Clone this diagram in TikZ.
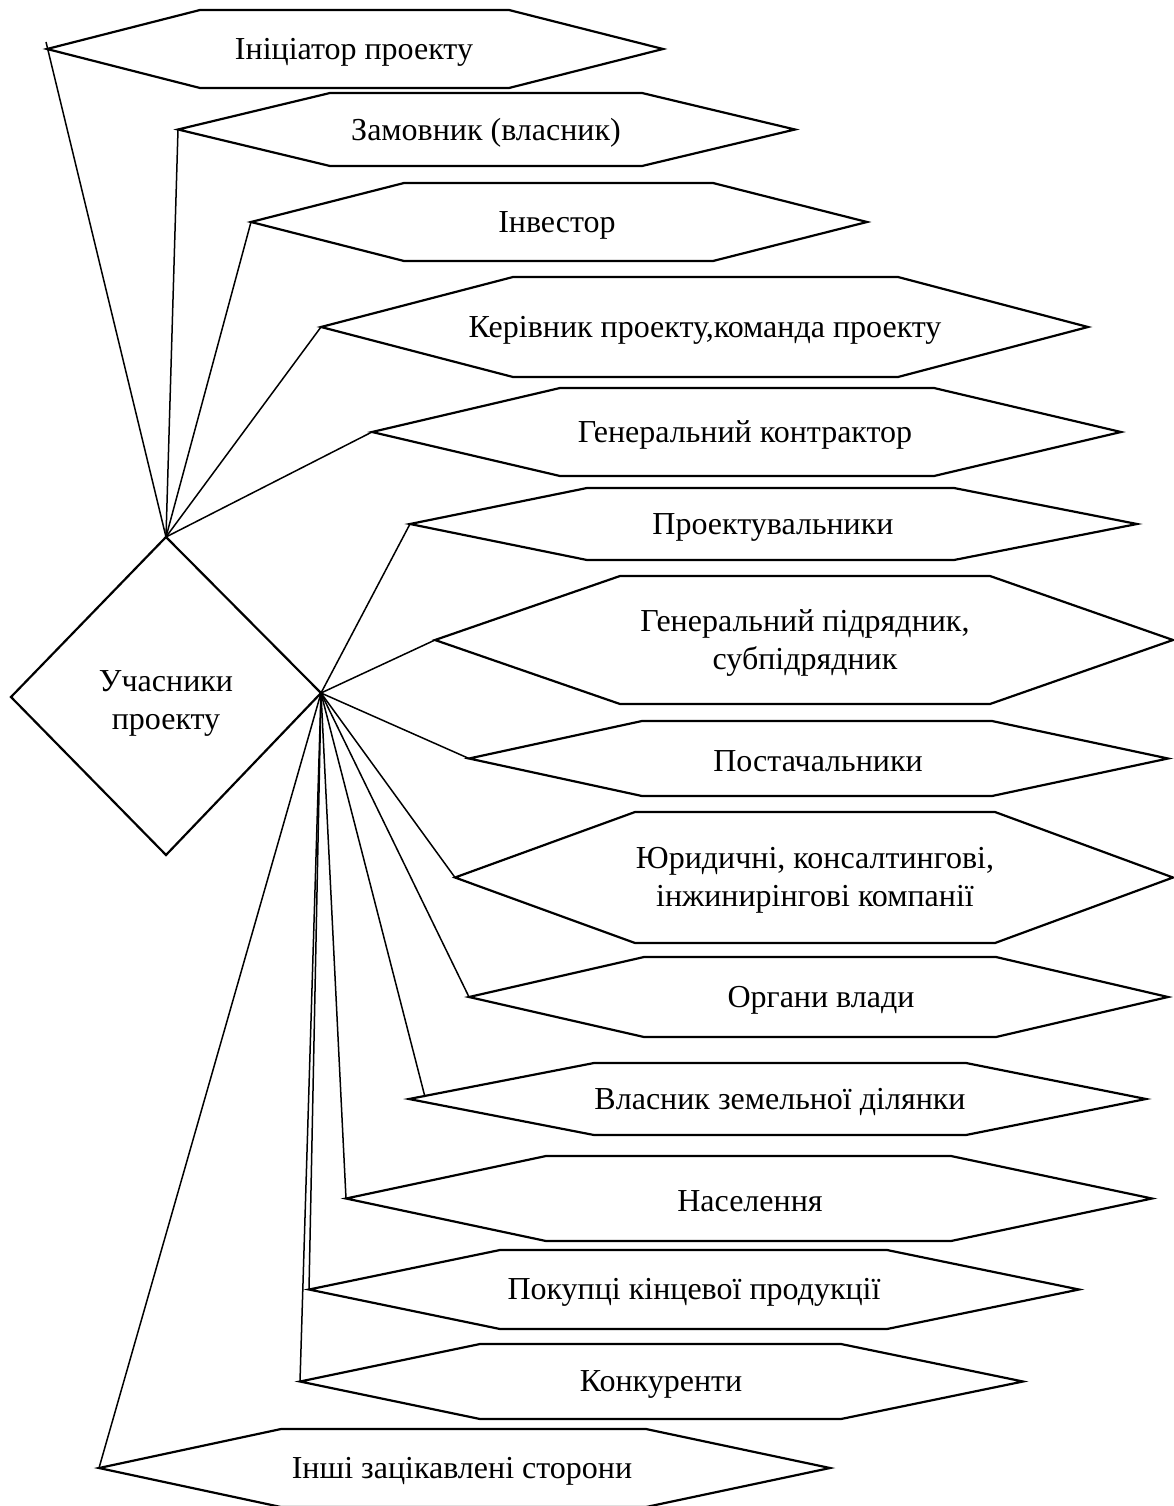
\documentclass[tikz,border=0pt]{standalone}
\usepackage{fontspec}
\setmainfont{Liberation Serif}
\tikzset{
  hexline/.style={draw=black, line width=2.2pt},
  conn/.style={draw=black, line width=1.5pt},
  lbl/.style={font=\fontsize{32}{38}\selectfont, align=center, inner sep=0pt}
}
% name, left x, top-left x, top-right x, right x, top y, bottom y, text x, text
\newcommand\hexa[9]{%
  \pgfmathsetmacro\hexvy{(#6+#7)/2}
  \draw[hexline] (#2,\hexvy) -- (#3,#6) -- (#4,#6) -- (#5,\hexvy) -- (#4,#7) -- (#3,#7) -- cycle;
  \coordinate (#1-l) at (#2,\hexvy);
  \node[lbl] (#1) at (#8,\hexvy+3) {#9};
}
\begin{document}
\begin{tikzpicture}[x=1pt, y=-1pt]
\useasboundingbox (0,0) rectangle (1174,1506);
% diamond
\coordinate (dtop) at (166,537);
\coordinate (dright) at (321,693);
\coordinate (dleft) at (11,697);
\coordinate (dbot) at (166,855);
\draw[hexline] (dleft) -- (dtop) -- (dright) -- (dbot) -- cycle;
\node[lbl] (dtext) at (166,703) {Учасники\\проекту};
% hexagons
\hexa{h1}{47}{200}{509}{663}{10}{88}{354}{Ініціатор проекту}
\hexa{h2}{178}{330}{642}{795}{93}{166}{486}{Замовник (власник)}
\hexa{h3}{251}{404}{713}{867}{183}{261}{557}{Інвестор}
\hexa{h4}{321}{513}{898}{1088}{277}{377}{705}{Керівник проекту,команда проекту}
\hexa{h5}{372}{560}{934}{1121}{388}{476}{745}{Генеральний контрактор}
\hexa{h6}{410}{587}{954}{1137}{488}{560}{773}{Проектувальники}
\hexa{h7}{435}{620}{990}{1173}{576}{704}{805}{Генеральний підрядник,\\субпідрядник}
\hexa{h8}{469}{642}{992}{1168}{721}{796}{818}{Постачальники}
\hexa{h9}{455}{635}{995}{1173}{812}{943}{815}{Юридичні, консалтингові,\\інжинирінгові компанії}
\hexa{h10}{469}{644}{996}{1168}{957}{1037}{821}{Органи влади}
\hexa{h11}{409}{594}{966}{1146}{1063}{1135}{780}{Власник земельної ділянки}
\hexa{h12}{346}{546}{951}{1152}{1156}{1241}{750}{Населення}
\hexa{h13}{309}{500}{887}{1079}{1250}{1329}{694}{Покупці кінцевої продукції}
\hexa{h14}{300}{480}{841}{1023}{1344}{1419}{661}{Конкуренти}
\hexa{h15}{99}{281}{646}{830}{1429}{1507}{462}{Інші зацікавлені сторони}
\coordinate (h1c) at (46,42);
\coordinate (h11c) at (425,1097);
% connectors from the top of the diamond
\draw[conn] (dtop) -- (h1c);
\draw[conn] (dtop) -- (h2-l);
\draw[conn] (dtop) -- (h3-l);
\draw[conn] (dtop) -- (h4-l);
\draw[conn] (dtop) -- (h5-l);
% connectors from the right corner of the diamond
\draw[conn] (dright) -- (h6-l);
\draw[conn] (dright) -- (h7-l);
\draw[conn] (dright) -- (h8-l);
\draw[conn] (dright) -- (h9-l);
\draw[conn] (dright) -- (h10-l);
\draw[conn] (dright) -- (h11c);
\draw[conn] (dright) -- (h12-l);
\draw[conn] (dright) -- (h13-l);
\draw[conn] (dright) -- (h14-l);
\draw[conn] (dright) -- (h15-l);
\end{tikzpicture}
\end{document}
